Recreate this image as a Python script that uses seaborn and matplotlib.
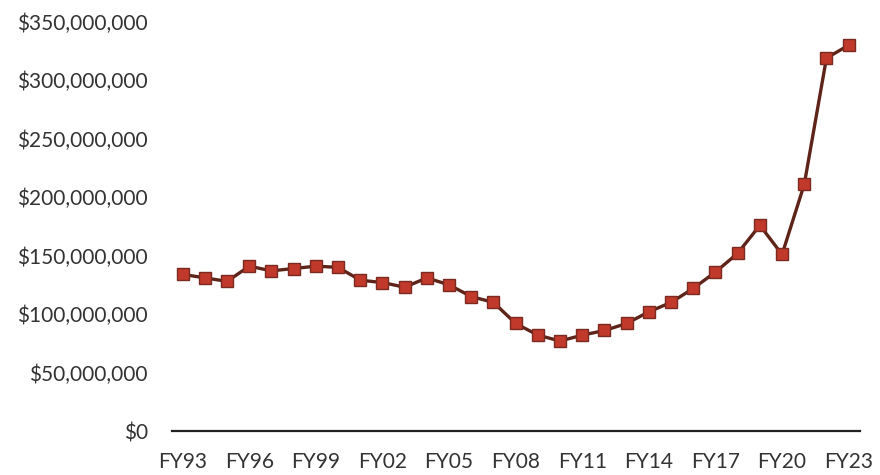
import matplotlib
matplotlib.use("Agg")
import matplotlib.pyplot as plt
import matplotlib.ticker as mticker
import numpy as np
import pandas as pd
import seaborn as sns

# Fiscal years FY93 .. FY23
years = [f"FY{y % 100:02d}" for y in range(1993, 2024)]

# Annual amounts, in millions of dollars
amounts_m = [134, 131, 128, 141, 137, 139, 141, 140, 129, 127,
             123, 131, 125, 115, 110, 92, 82, 77, 82, 86,
             92, 102, 110, 122, 136, 152, 176, 151, 211, 319, 330]

tick_labels = years[::3]

df = pd.DataFrame({
    "idx": np.arange(len(years)),
    "year": years,
    "amount": np.array(amounts_m) * 1_000_000,
})

sns.set_theme(style="white")
plt.rcParams["font.family"] = ["Lato", "DejaVu Sans"]

fig = plt.figure(figsize=(8.8, 4.75), dpi=100)
ax = fig.add_axes([0.195, 0.0926, 0.782, 0.8614])

sns.lineplot(data=df, x="idx", y="amount", ax=ax,
             color="#5e2419", linewidth=2.4,
             marker="s", markersize=8.5,
             markerfacecolor="#c0392b", markeredgecolor="#7a2a20",
             markeredgewidth=1.0)

ax.set_xlim(-0.5, len(years) - 0.5)
ax.set_ylim(0, 350_000_000)
ax.yaxis.set_major_locator(mticker.MultipleLocator(50_000_000))
ax.yaxis.set_major_formatter(mticker.FuncFormatter(lambda v, _: f"${v:,.0f}"))
ax.set_xticks(np.arange(0, len(years), 3))
ax.set_xticklabels(tick_labels)
ax.set_xlabel("")
ax.set_ylabel("")

for side in ("top", "right", "left"):
    ax.spines[side].set_visible(False)
ax.spines["bottom"].set_color("#222222")
ax.spines["bottom"].set_linewidth(1.6)

ax.tick_params(axis="both", length=0, labelsize=15, colors="#333333")
ax.tick_params(axis="y", pad=17)
ax.tick_params(axis="x", pad=15)
ax.grid(False)

fig.savefig("out.png", dpi=100, facecolor="white")
